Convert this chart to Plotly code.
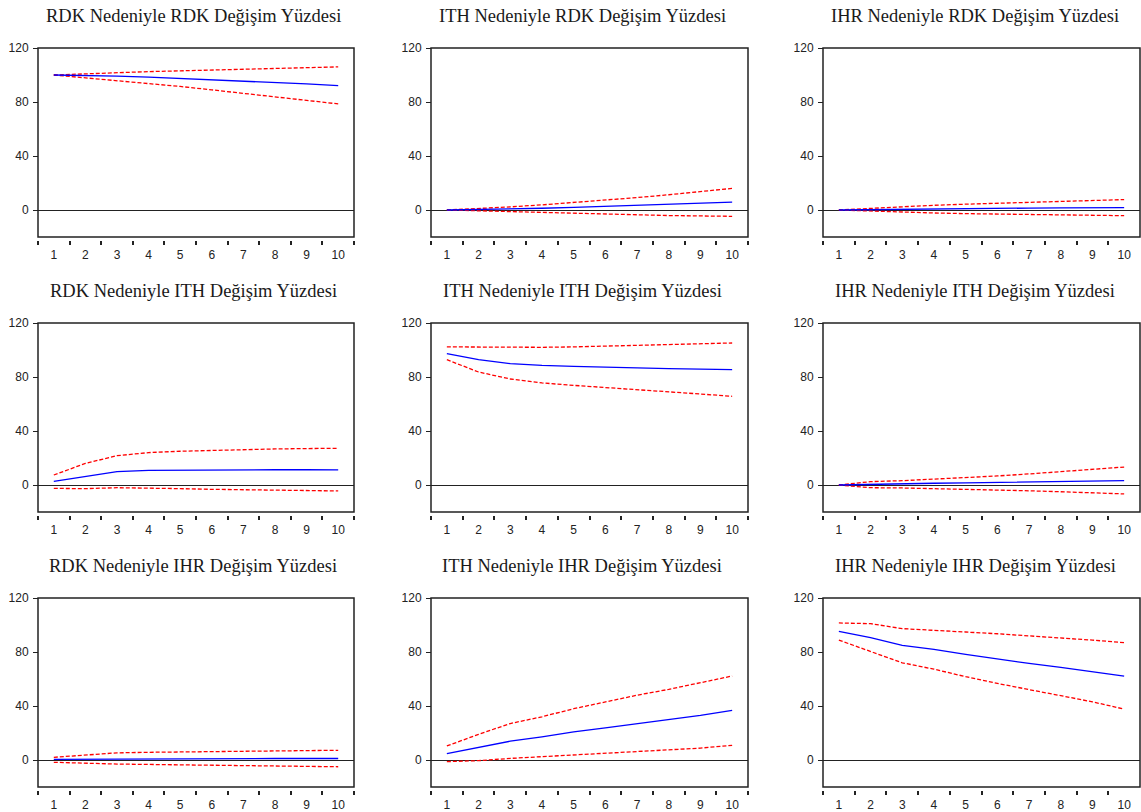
import plotly.graph_objects as go

periods = [str(i) for i in range(1, 11)]
y_ticks = [0, 40, 80, 120]

titles = [
    "RDK Nedeniyle RDK Değişim Yüzdesi",
    "ITH Nedeniyle RDK Değişim Yüzdesi",
    "IHR Nedeniyle RDK Değişim Yüzdesi",
    "RDK Nedeniyle ITH Değişim Yüzdesi",
    "ITH Nedeniyle ITH Değişim Yüzdesi",
    "IHR Nedeniyle ITH Değişim Yüzdesi",
    "RDK Nedeniyle IHR Değişim Yüzdesi",
    "ITH Nedeniyle IHR Değişim Yüzdesi",
    "IHR Nedeniyle IHR Değişim Yüzdesi",
]

# Row 1: variance of RDK
rdk_rdk_mid = [100, 99.7, 99.2, 98.4, 97.5, 96.6, 95.6, 94.5, 93.4, 92.2]
rdk_rdk_up = [100, 101, 101.8, 102.5, 103.1, 103.7, 104.3, 104.9, 105.5, 106]
rdk_rdk_lo = [100, 98, 95.7, 93.5, 91.5, 89, 86.5, 84, 81.3, 78.6]

ith_rdk_mid = [0, 0.3, 0.8, 1.3, 2, 2.7, 3.4, 4.2, 5, 5.8]
ith_rdk_up = [0, 1, 2.3, 3.8, 5.5, 7.3, 9.2, 11.3, 13.5, 16]
ith_rdk_lo = [0, -0.6, -1.3, -2, -2.7, -3.2, -3.7, -4.1, -4.4, -4.7]

ihr_rdk_mid = [0, 0.3, 0.6, 0.9, 1.1, 1.3, 1.4, 1.5, 1.6, 1.7]
ihr_rdk_up = [0, 1.3, 2.5, 3.5, 4.3, 5, 5.7, 6.3, 7, 7.7]
ihr_rdk_lo = [0, -0.9, -1.6, -2.2, -2.7, -3.1, -3.4, -3.7, -4, -4.2]

# Row 2: variance of ITH
rdk_ith_mid = [2.7, 6.5, 9.9, 10.9, 11.1, 11.2, 11.3, 11.3, 11.3, 11.2]
rdk_ith_up = [7.4, 16, 21.7, 24, 25, 25.7, 26.2, 26.7, 27, 27.2]
rdk_ith_lo = [-2.5, -2.7, -2, -2.2, -2.7, -3.2, -3.5, -4, -4.2, -4.4]

ith_ith_mid = [97.3, 92.8, 89.9, 88.6, 87.9, 87.2, 86.7, 86.2, 85.9, 85.4]
ith_ith_up = [102.3, 102.2, 101.8, 102, 102.3, 102.8, 103.3, 103.8, 104.5, 105.2]
ith_ith_lo = [92.8, 83.7, 78.5, 75.6, 73.8, 72.3, 70.9, 69.1, 67.4, 65.7]

ihr_ith_mid = [0, 0.6, 1, 1.3, 1.6, 1.9, 2.2, 2.5, 2.8, 3.3]
ihr_ith_up = [0, 2.5, 3.2, 4.2, 5.4, 6.7, 8.2, 9.8, 11.5, 13.3]
ihr_ith_lo = [0, -2, -2.2, -2.6, -3, -3.6, -4.3, -5, -5.8, -6.6]

# Row 3: variance of IHR
rdk_ihr_mid = [0.5, 0.6, 1, 1.2, 1.2, 1.2, 1.1, 1.1, 1.1, 1.1]
rdk_ihr_up = [2, 3.5, 5.3, 5.7, 6, 6.2, 6.5, 6.8, 7, 7.2]
rdk_ihr_lo = [-1.7, -2.5, -3, -3.3, -3.6, -3.9, -4.2, -4.5, -4.8, -5]

ith_ihr_mid = [4.7, 9.5, 13.9, 17.1, 20.8, 23.8, 26.8, 29.8, 33, 36.7]
ith_ihr_up = [10.4, 19, 27, 32, 38, 43, 48, 52.3, 57.3, 62.2]
ith_ihr_lo = [-1.2, -0.5, 1.2, 2.5, 3.7, 5, 6, 7.2, 8.8, 10.9]

ihr_ihr_mid = [95.3, 90.6, 84.9, 81.9, 78.2, 74.7, 71.5, 68.6, 65.3, 62.1]
ihr_ihr_up = [101.5, 101, 97.3, 96.3, 94.8, 93.5, 92, 90.6, 88.8, 86.9]
ihr_ihr_lo = [88.8, 80.2, 72, 67.3, 61.7, 56.7, 52.3, 47.8, 43.1, 37.7]

panels = [
    (rdk_rdk_mid, rdk_rdk_up, rdk_rdk_lo),
    (ith_rdk_mid, ith_rdk_up, ith_rdk_lo),
    (ihr_rdk_mid, ihr_rdk_up, ihr_rdk_lo),
    (rdk_ith_mid, rdk_ith_up, rdk_ith_lo),
    (ith_ith_mid, ith_ith_up, ith_ith_lo),
    (ihr_ith_mid, ihr_ith_up, ihr_ith_lo),
    (rdk_ihr_mid, rdk_ihr_up, rdk_ihr_lo),
    (ith_ihr_mid, ith_ihr_up, ith_ihr_lo),
    (ihr_ihr_mid, ihr_ihr_up, ihr_ihr_lo),
]

W, H = 1141, 812
cols = [(38, 354), (431, 748), (823, 1140)]
rows = [(48, 237), (323, 512), (598, 787)]
title_x = [193, 582, 975]
title_y = [16, 291, 566]

frame_color = "#222222"
tick_font = dict(family="Liberation Sans, Arial, sans-serif", size=12, color="#222222")

fig = go.Figure()
layout_axes = {}
for i, (mid, up, lo) in enumerate(panels):
    r, c = divmod(i, 3)
    n = i + 1
    xa = "x" if n == 1 else f"x{n}"
    ya = "y" if n == 1 else f"y{n}"
    for vals, color, dash in [(up, "#FF0000", "4px,2px"), (lo, "#FF0000", "4px,2px"), (mid, "#0000FF", "solid")]:
        fig.add_trace(go.Scatter(
            x=periods, y=vals, xaxis=xa, yaxis=ya, mode="lines",
            line=dict(color=color, width=1.3, dash=dash),
            showlegend=False, hoverinfo="skip",
        ))
    x0, x1 = cols[c]
    y0, y1 = rows[r]
    xkey = "xaxis" if n == 1 else f"xaxis{n}"
    ykey = "yaxis" if n == 1 else f"yaxis{n}"
    layout_axes[xkey] = dict(
        domain=[x0 / W, x1 / W], anchor="free", position=1 - (y1 + 3) / H,
        type="category", categoryorder="array", categoryarray=periods,
        tickson="boundaries", ticks="outside", ticklen=4, tickwidth=1.5, tickcolor=frame_color,
        showline=False, showgrid=False, zeroline=False, range=[-0.5, 9.5],
        tickfont=tick_font, fixedrange=True, ticklabelstandoff=6, automargin=False,
    )
    layout_axes[ykey] = dict(
        domain=[1 - y1 / H, 1 - y0 / H], anchor="free", position=x0 / W,
        range=[-20, 120], tickvals=y_ticks, ticks="outside", ticklen=5, tickwidth=1, tickcolor=frame_color,
        showline=False, showgrid=False, zeroline=True, zerolinecolor=frame_color, zerolinewidth=1,
        tickfont=tick_font, fixedrange=True, ticklabelstandoff=2, automargin=False,
    )
    fig.add_shape(type="rect", xref=f"{xa} domain", yref=f"{ya} domain",
                  x0=0, x1=1, y0=0, y1=1, line=dict(color=frame_color, width=1.5), layer="above")
    fig.add_annotation(text=titles[i], xref="paper", yref="paper",
                       x=title_x[c] / W, y=1 - title_y[r] / H, showarrow=False,
                       xanchor="center", yanchor="middle",
                       font=dict(family="Liberation Serif, Times New Roman, serif", size=18.5, color="#1a1a1a"))

fig.update_layout(
    width=W, height=H, margin=dict(l=0, r=0, t=0, b=0, autoexpand=False),
    paper_bgcolor="white", plot_bgcolor="white",
    **layout_axes,
)
fig.write_html(
    "out.html",
    config={"displayModeBar": False},
    post_script="document.body.style.margin='0';document.body.style.padding='0';"
                "document.body.style.overflow='hidden';"
                "var d=document.getElementById('{plot_id}');"
                "d.style.position='absolute';d.style.top='0px';d.style.left='0px';",
)
